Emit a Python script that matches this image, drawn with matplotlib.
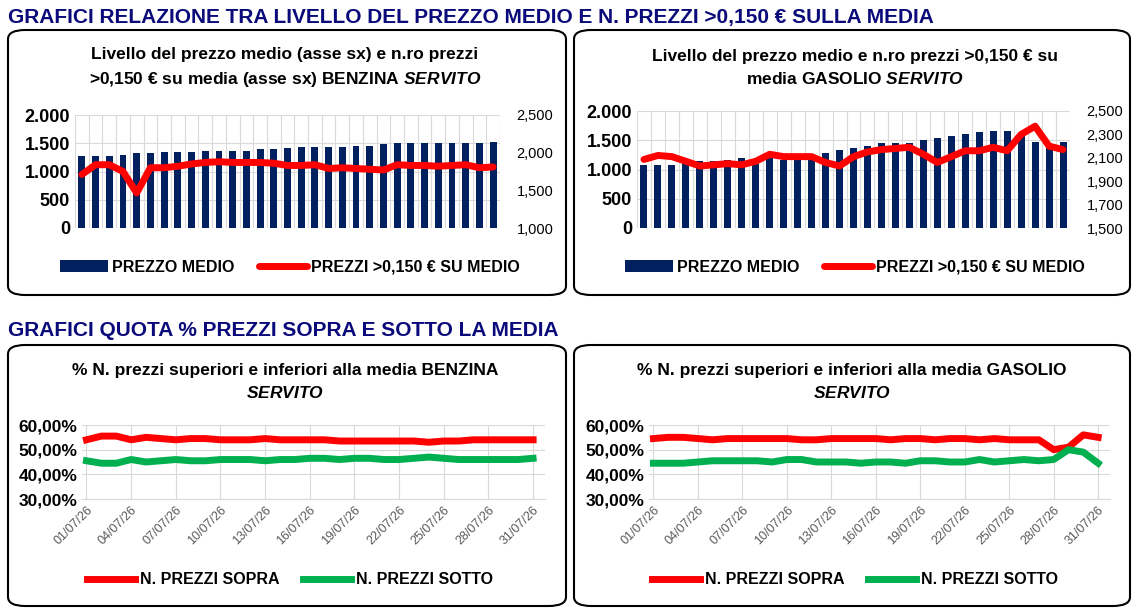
import matplotlib
matplotlib.use("Agg")
import matplotlib.pyplot as plt
from matplotlib.patches import FancyBboxPatch
from matplotlib.ticker import FuncFormatter

plt.rcParams['font.family'] = ['Liberation Sans', 'DejaVu Sans']
plt.rcParams['mathtext.fontset'] = 'custom'
plt.rcParams['mathtext.it'] = 'Liberation Sans:italic:bold'

NAVY = '#002060'
TITLE = '#0A0A7A'
RED = '#FF0000'
GREEN = '#00B050'

days = [f"{d:02d}/07/26" for d in range(1, 32)]

benz_prezzo = [1280, 1280, 1280, 1300, 1320, 1320, 1340, 1340, 1350, 1360, 1370, 1370, 1370, 1390, 1390, 1410,
               1430, 1440, 1440, 1440, 1460, 1460, 1480, 1500, 1500, 1510, 1510, 1510, 1510, 1510, 1530]
benz_sopra150 = [1710, 1840, 1840, 1750, 1465, 1800, 1800, 1820, 1850, 1870, 1880, 1870, 1870, 1870, 1860, 1830,
                 1830, 1840, 1790, 1800, 1790, 1780, 1770, 1840, 1830, 1830, 1820, 1830, 1840, 1800, 1810]
gas_prezzo = [1080, 1080, 1080, 1120, 1140, 1140, 1170, 1190, 1100, 1200, 1170, 1170, 1200, 1290, 1330, 1360,
              1410, 1450, 1460, 1460, 1500, 1530, 1570, 1600, 1640, 1650, 1650, 1630, 1470, 1370, 1470]
gas_sopra150 = [2086, 2120, 2110, 2070, 2030, 2040, 2050, 2040, 2070, 2130, 2110, 2110, 2110, 2060, 2030, 2110,
                2150, 2170, 2180, 2190, 2130, 2060, 2110, 2160, 2160, 2190, 2160, 2300, 2370, 2200, 2170]

benz_pct_sopra = [54, 55.5, 55.5, 54, 55, 54.5, 54, 54.5, 54.5, 54, 54, 54, 54.5, 54, 54, 54,
                  54, 53.5, 53.5, 53.5, 53.5, 53.5, 53.5, 53, 53.5, 53.5, 54, 54, 54, 54, 54]
benz_pct_sotto = [45.5, 44.5, 44.5, 46, 45, 45.5, 46, 45.5, 45.5, 46, 46, 46, 45.5, 46, 46, 46.5,
                  46.5, 46, 46.5, 46.5, 46, 46, 46.5, 47, 46.5, 46, 46, 46, 46, 46, 46.5]
gas_pct_sopra = [54.5, 55, 55, 54.5, 54, 54.5, 54.5, 54.5, 54.5, 54.5, 54, 54, 54.5, 54.5, 54.5, 54.5,
                 54, 54.5, 54.5, 54, 54.5, 54.5, 54, 54.5, 54, 54, 54, 50, 51, 56, 55]
gas_pct_sotto = [44.5, 44.5, 44.5, 45, 45.5, 45.5, 45.5, 45.5, 45, 46, 46, 45, 45, 45, 44.5, 45,
                 45, 44.5, 45.5, 45.5, 45, 45, 46, 45, 45.5, 46, 45.5, 46, 50, 49, 44.5]

W, H = 1137, 612
fig = plt.figure(figsize=(W / 100, H / 100), dpi=100)


def fx(px):
    return px / W


def fy(py):
    return 1 - py / H


def box(x0, y0, x1, y1):
    fig.patches.append(FancyBboxPatch((fx(x0), fy(y1)), fx(x1 - x0), fy(y0) - fy(y1),
                                      boxstyle="round,pad=0,rounding_size=0.015", transform=fig.transFigure,
                                      facecolor='white', edgecolor='black', linewidth=1.5, zorder=-10))


def axes_px(x0, y0, x1, y1):
    ax = fig.add_axes([fx(x0), fy(y1), fx(x1 - x0), fy(y0) - fy(y1)])
    ax.patch.set_alpha(0)
    return ax


dot = FuncFormatter(lambda v, p: f"{int(v):,}".replace(",", "."))
comma = FuncFormatter(lambda v, p: f"{int(v):,}")
pctf = FuncFormatter(lambda v, p: f"{v:.2f}%".replace(".", ","))

fig.text(fx(8), fy(17), "GRAFICI RELAZIONE TRA LIVELLO DEL PREZZO MEDIO E N. PREZZI >0,150 € SULLA MEDIA",
         color=TITLE, fontsize=15, fontweight='bold', va='center')
fig.text(fx(8), fy(331), "GRAFICI QUOTA % PREZZI SOPRA E SOTTO LA MEDIA",
         color=TITLE, fontsize=15, fontweight='bold', va='center')

box(8, 30, 566, 295)
box(574, 30, 1130, 295)
box(8, 345, 566, 606)
box(574, 345, 1130, 606)


def bar_chart(rect, title, title_x, prezzo, sopra, rlim, rstep, leg_x):
    ax = axes_px(*rect)
    x = list(range(len(days)))
    ax.bar(x, prezzo, width=0.5, color=NAVY, zorder=2, label="PREZZO MEDIO")
    ax.set_ylim(0, 2000)
    ax.set_yticks(range(0, 2001, 500))
    ax.yaxis.set_major_formatter(dot)
    ax.set_xlim(-0.5, len(days) - 0.5)
    ax.set_xticks([i - 0.5 for i in range(len(days) + 1)])
    ax.set_xticklabels([])
    ax.grid(axis='both', color='#D9D9D9', linewidth=0.8, zorder=0)
    ax.tick_params(length=0, labelsize=13)
    for t in ax.get_yticklabels():
        t.set_fontweight('bold')
    for s in ax.spines.values():
        s.set_visible(False)
    ax2 = ax.twinx()
    ax2.plot(x, sopra, color=RED, linewidth=5, solid_capstyle='round', label="PREZZI >0,150 € SU MEDIO")
    ax2.set_ylim(*rlim)
    ax2.set_yticks(range(rlim[0], rlim[1] + 1, rstep))
    ax2.yaxis.set_major_formatter(comma)
    ax2.tick_params(length=0, labelsize=10.5, pad=12)
    for s in ax2.spines.values():
        s.set_visible(False)
    fig.text(fx(title_x), fy(68), title, ha='center', va='center', fontsize=12.5, fontweight='bold',
             linespacing=1.6)
    h1, l1 = ax.get_legend_handles_labels()
    h2, l2 = ax2.get_legend_handles_labels()
    fig.legend(h1 + h2, l1 + l2, loc='center', bbox_to_anchor=(fx(leg_x), fy(267)), ncol=2, frameon=False,
               prop={'weight': 'bold', 'size': 11.5}, handlelength=3, columnspacing=1.5, handletextpad=0.3)


bar_chart((75, 115, 500, 228),
          "Livello del prezzo medio (asse sx) e n.ro prezzi\n>0,150 € su media (asse sx) BENZINA $\\it{SERVITO}$",
          285, benz_prezzo, benz_sopra150, (1000, 2500), 500, 290)
bar_chart((637, 111, 1070, 228),
          "Livello del prezzo medio e n.ro prezzi >0,150 € su\nmedia GASOLIO $\\it{SERVITO}$",
          855, gas_prezzo, gas_sopra150, (1500, 2500), 200, 855)


def line_chart(rect, title, title_x, sopra, sotto, leg_x):
    ax = axes_px(*rect)
    x = list(range(len(days)))
    ax.plot(x, sopra, color=RED, linewidth=5, label="N. PREZZI SOPRA")
    ax.plot(x, sotto, color=GREEN, linewidth=5, label="N. PREZZI SOTTO")
    ax.set_ylim(30, 60)
    ax.set_yticks([30, 40, 50, 60])
    ax.yaxis.set_major_formatter(pctf)
    ax.set_xlim(-0.3, 30.8)
    ax.set_xticks(range(0, 31, 3))
    ax.set_xticklabels(days[::3], rotation=45, ha='right', rotation_mode='anchor', color='#595959', fontsize=9)
    ax.grid(axis='both', color='#D9D9D9', linewidth=0.8, zorder=0)
    ax.tick_params(axis='y', length=0, labelsize=12.5)
    ax.tick_params(axis='x', length=0)
    for t in ax.get_yticklabels():
        t.set_fontweight('bold')
    for s in ax.spines.values():
        s.set_visible(False)
    ax.spines['bottom'].set_visible(True)
    ax.spines['bottom'].set_color('#D9D9D9')
    fig.text(fx(title_x), fy(382), title, ha='center', va='center', fontsize=12.5, fontweight='bold',
             linespacing=1.6)
    fig.legend(loc='center', bbox_to_anchor=(fx(leg_x), fy(580)), ncol=2, frameon=False,
               handles=ax.get_lines(), prop={'weight': 'bold', 'size': 11.5}, handlelength=3,
               columnspacing=1.5, handletextpad=0.3)


line_chart((82, 425, 545, 499),
           "% N. prezzi superiori e inferiori alla media BENZINA\n$\\it{SERVITO}$", 285,
           benz_pct_sopra, benz_pct_sotto, 290)
line_chart((649, 425, 1110, 499),
           "% N. prezzi superiori e inferiori alla media GASOLIO\n$\\it{SERVITO}$", 852,
           gas_pct_sopra, gas_pct_sotto, 855)

fig.savefig("out.png", dpi=100)
